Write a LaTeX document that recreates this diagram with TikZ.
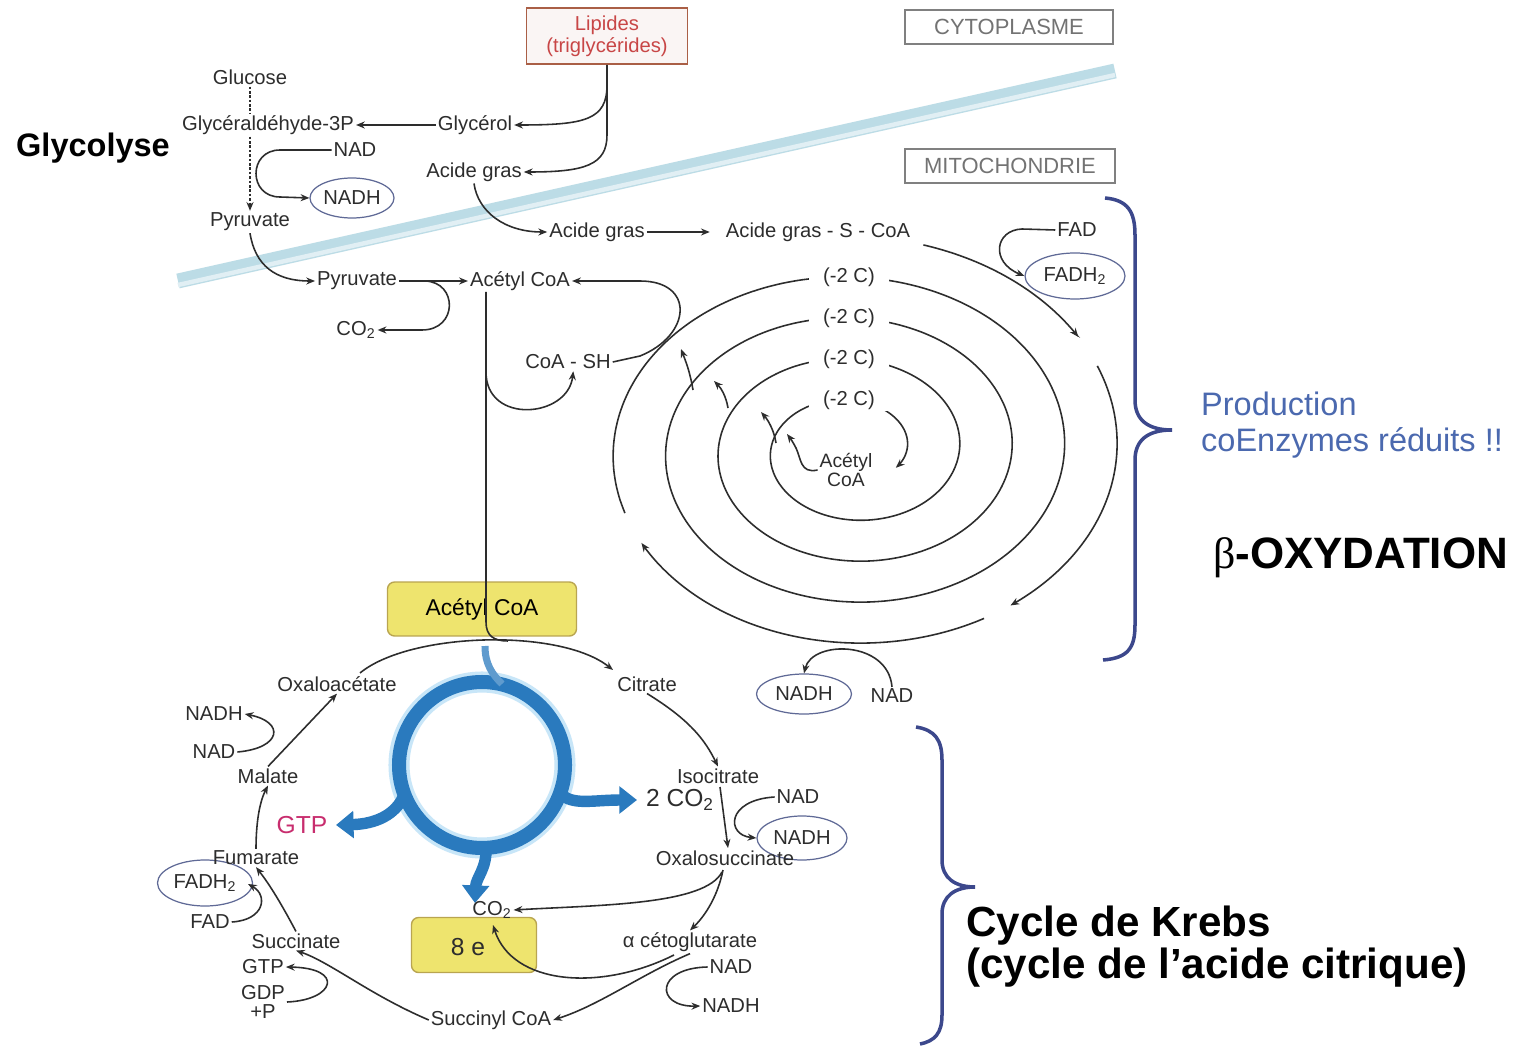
\documentclass[tikz,border=0pt]{standalone}
\usepackage{fontspec}
\setmainfont{Liberation Sans}
\newfontfamily\grkfont{Liberation Serif}
\usetikzlibrary{arrows.meta,shapes.geometric}

\definecolor{txt}{RGB}{45,45,45}
\definecolor{membrane}{RGB}{188,220,230}
\definecolor{krebsblue}{RGB}{42,122,190}
\definecolor{glowblue}{RGB}{200,230,248}
\definecolor{yellowbox}{RGB}{238,228,110}
\definecolor{yellowline}{RGB}{185,165,80}
\definecolor{lipred}{RGB}{200,70,70}
\definecolor{lipline}{RGB}{170,95,70}
\definecolor{bracecol}{RGB}{60,72,140}
\definecolor{prodblue}{RGB}{75,105,175}
\definecolor{gtpcol}{RGB}{200,45,110}
\definecolor{ovalcol}{RGB}{95,105,150}

\tikzset{
  lbl/.style={font=\fontsize{11.5}{13}\selectfont, text=txt, inner sep=1pt},
  lblw/.style={lbl, fill=white, inner xsep=8pt},
  oval/.style={ellipse, draw=ovalcol, line width=0.7pt, lbl, inner sep=0pt},
  compart/.style={draw=gray, line width=1pt, font=\fontsize{12.5}{14}\selectfont, text=gray!90!black,
    minimum width=4.16cm, minimum height=0.68cm},
  ybox/.style={draw=yellowline, fill=yellowbox, rounded corners=4pt, line width=0.8pt},
  plain/.style={line width=0.9pt, draw=txt},
  flow/.style={plain, -{Stealth[length=5pt,width=4pt]}},
  bluearrow/.style={krebsblue, line width=6.5pt, -{Triangle[length=10pt,width=15pt]}},
  bracket/.style={bracecol, line width=2pt}
}

\begin{document}
\begin{tikzpicture}[x=0.02cm, y=-0.02cm]

  \fill[white] (0,0) rectangle (1532,1047);
  \useasboundingbox (0,0) rectangle (1532,1047);

  % Membrane
  \draw[membrane, line width=8.5pt] (178,281) -- (1115,71);
  \draw[membrane!45, line width=2.5pt] (178,285) -- (1115,75);

  % Compartments
  \node[compart] (cyto) at (1009,27) {CYTOPLASME};
  \node[compart, minimum width=4.2cm] (mito) at (1010,166) {MITOCHONDRIE};

  % Lipides
  \node[draw=lipline, fill=lipline!6, line width=1pt, text=lipred, align=center,
    font=\fontsize{11.5}{12.5}\selectfont, minimum width=3.22cm, minimum height=1.12cm] (lip) at (607,36) {Lipides\\(triglycérides)};

  % Glycolyse
  \node[anchor=west, font=\fontsize{18.5}{20}\selectfont\bfseries] (glyco) at (10,148) {Glycolyse};
  \node[lbl] (glc) at (250,77) {Glucose};
  \node[lbl] (g3p) at (268,125) {Glycéraldéhyde-3P};
  \node[lbl] (glyl) at (475,125) {Glycérol};
  \node[lbl] (nad1) at (355,150) {NAD};
  \node[oval, minimum width=1.68cm, minimum height=0.8cm] (nadh1) at (352,198) {NADH};
  \node[lbl] (ag1) at (474,172) {Acide gras};
  \node[lbl] (pyr1) at (250,222) {Pyruvate};

  \draw[plain, dash pattern=on 1.5pt off 1pt] (glc.south) -- (glc.south |- g3p.north);
  \draw[flow, dash pattern=on 1.5pt off 1pt] (glc.south |- g3p.south) -- (glc.south |- pyr1.north);
  \draw[flow] (glyl.west) -- (g3p.east);
  \draw[flow] (lip.south) -- (607,85) .. controls (607,120) and (585,125) .. (glyl.east);
  \draw[flow] (607,85) -- (607,135) .. controls (607,165) and (585,172) .. (ag1.east);
  \draw[flow] (nad1.west) -- (280,150) .. controls (248,150) and (248,197) .. (280,197) -- (nadh1.west);

  % Entree dans la mitochondrie
  \node[lbl] (ag2) at (597,232) {Acide gras};
  \node[lbl] (agscoa) at (818,232) {Acide gras - S - CoA};
  \node[lbl] (pyr2) at (357,281) {Pyruvate};
  \node[lbl] (acoa) at (520,281) {Acétyl CoA};
  \node[lbl] (co2a) at (356,330) {CO\textsubscript{2}};
  \node[lbl] (coash) at (568,362) {CoA - SH};
  \coordinate (pyrmid) at (425,281);
  \coordinate (adown) at (486,292);

  \draw[flow] (ag1.south) .. controls (478,212) and (505,232) .. (ag2.west);
  \draw[flow] (ag2.east) -- ([xshift=-8pt]agscoa.west);
  \draw[flow] (pyr1.south) .. controls (255,265) and (275,281) .. (pyr2.west);
  \draw[flow] (pyr2.east) -- (acoa.west);
  \draw[flow] (pyrmid) .. controls (458,282) and (458,330) .. (422,330) -- (co2a.east);
  \draw[flow] (486,372) .. controls (486,425) and (568,418) .. ([xshift=3pt]coash.south);
  \draw[flow] (coash.east) -- (640,356) .. controls (692,335) and (695,281) .. (640,281) -- (acoa.east);

  % Spirale de la beta-oxydation
  \draw[flow] plot[domain=-75:-33, samples=30, smooth] ({852+(265-52.5*(\x/360))*cos(\x)}, {449.75+(203.5-41*(\x/360))*sin(\x)});
  \draw[flow] plot[domain=-24:52, samples=40, smooth] ({852+(265-52.5*(\x/360))*cos(\x)}, {449.75+(203.5-41*(\x/360))*sin(\x)});
  \draw[flow] plot[domain=59:150, samples=40, smooth] ({852+(265-52.5*(\x/360))*cos(\x)}, {449.75+(203.5-41*(\x/360))*sin(\x)});
  \draw[flow] plot[domain=160:1470, samples=300, smooth] ({852+(265-52.5*(\x/360))*cos(\x)}, {449.75+(203.5-41*(\x/360))*sin(\x)});

  \foreach \i/\yy in {1/277,2/318,3/359,4/400}
    \node[lblw] (moins\i) at (849,\yy) {(-2 C)};
  \node[lbl, align=center, font=\fontsize{11}{10.8}\selectfont] (acoai) at (846,470) {Acétyl\\CoA};

  \draw[flow] (693,390) .. controls (690,372) and (686,362) .. (681,349);
  \draw[flow] (728,408) .. controls (726,396) and (721,388) .. (714,381);
  \draw[flow] (776,443) .. controls (774,430) and (768,420) .. (761,412);
  \draw[flow] (acoai.west) .. controls (800,474) and (801,458) .. (796,448) .. controls (793,442) and (790,438) .. (787,434);

  % FAD
  \node[lbl] (fad1) at (1077,230) {FAD};
  \node[oval, minimum width=2cm, minimum height=0.92cm] (fadh1) at (1075,276) {FADH\textsubscript{2}};
  \draw[flow] (fad1.west) -- (1022,229) .. controls (995,230) and (990,262) .. (fadh1.west);

  % NAD sous la spirale
  \node[oval, minimum width=1.9cm, minimum height=0.8cm] (nadh2) at (804,694) {NADH};
  \node[lbl] (nad2) at (892,696) {NAD};
  \draw[flow] (nad2.north) .. controls (888,640) and (812,640) .. (nadh2.north);

  % Accolades et titres
  \draw[bracket] (1105,198) .. controls (1128,200) and (1135,212) .. (1135,235) -- (1135,400)
    .. controls (1135,420) and (1148,430) .. (1172,430) .. controls (1148,430) and (1135,440) .. (1135,460)
    -- (1135,625) .. controls (1135,648) and (1128,658) .. (1103,660);
  \draw[bracket] (916,727) .. controls (935,730) and (942,740) .. (942,760) -- (942,860)
    .. controls (942,878) and (955,887) .. (975,887) .. controls (955,887) and (942,896) .. (942,914)
    -- (942,1015) .. controls (942,1033) and (935,1041) .. (920,1044);

  \node[anchor=west, text=prodblue, align=left, font=\fontsize{18.5}{20.5}\selectfont] (prod) at (1195,425) {Production\\coEnzymes réduits !!};
  \node[anchor=west, font=\fontsize{25}{28}\selectfont\bfseries] (boxy) at (1207,558) {{\grkfont\mdseries β}-OXYDATION};
  \node[anchor=west, align=left, font=\fontsize{24}{24}\selectfont\bfseries] (krebs) at (960,947) {Cycle de Krebs\\(cycle de l’acide citrique)};

  % Cycle de Krebs
  \coordinate (krebsc) at (482,765);
  \draw[glowblue, line width=12pt] (krebsc) circle[radius=1.66cm];
  \draw[krebsblue, line width=8pt] (krebsc) circle[radius=1.66cm];
  \draw[krebsblue!75, line width=4pt] (485,646) .. controls (485,664) and (492,674) .. (502,684);
  \draw[bluearrow] (404,795) .. controls (396,815) and (375,824) .. (336,825);
  \draw[bluearrow] (560,793) .. controls (572,806) and (592,800) .. (637,800);

  \node[ybox, minimum width=3.78cm, minimum height=1.08cm, font=\fontsize{13}{15}\selectfont] (acbox) at (482,609) {Acétyl CoA};
  \draw[plain] (adown) -- (486,622) .. controls (486,636) and (494,641) .. (508,641);
  \node[ybox, minimum width=2.5cm, minimum height=1.1cm] (ebox) at (474,945) {};
  \node[font=\fontsize{14}{16}\selectfont, text=txt] (eight) at (468,947) {8 e};
  \draw[bluearrow] (486,848) .. controls (487,868) and (476,878) .. (475,903);
  \node[lbl] (co2c) at (492,910) {CO\textsubscript{2}};

  \node[lbl] (oxalo) at (337,684) {Oxaloacétate};
  \node[lbl] (cit) at (647,684) {Citrate};
  \node[lbl] (iso) at (718,776) {Isocitrate};
  \node[font=\fontsize{14}{16}\selectfont, text=txt] (co2b) at (680,800) {2 CO\textsubscript{2}};
  \node[lbl] (nad3) at (798,797) {NAD};
  \node[oval, minimum width=1.8cm, minimum height=0.88cm] (nadh3) at (802,838) {NADH};
  \node[lbl] (oxs) at (725,858) {Oxalosuccinate};
  \node[lbl] (akg) at (690,942) {α cétoglutarate};
  \node[lbl] (nad4) at (731,967) {NAD};
  \node[lbl] (nadh4) at (731,1006) {NADH};
  \node[lbl] (succoa) at (491,1020) {Succinyl CoA};
  \node[lbl] (succ) at (296,941) {Succinate};
  \node[lbl] (gtp2) at (263,967) {GTP};
  \node[lbl, align=center, font=\fontsize{11.5}{11}\selectfont] (gdp) at (263,1002) {GDP\\+P};
  \node[lbl] (fad2) at (210,922) {FAD};
  \node[oval, minimum width=1.9cm, minimum height=0.92cm] (fadh2) at (205,883) {FADH\textsubscript{2}};
  \node[lbl] (fum) at (256,858) {Fumarate};
  \node[text=gtpcol, font=\fontsize{14}{16}\selectfont] (gtp) at (302,825) {GTP};
  \node[lbl] (mal) at (268,776) {Malate};
  \node[lbl] (nad5) at (214,752) {NAD};
  \node[lbl] (nadh5) at (214,714) {NADH};

  \draw[flow] (360,673) .. controls (410,632) and (560,628) .. (613,670);
  \draw[flow] (cit.south) .. controls (690,720) and (705,740) .. (iso.north);
  \draw[flow] (720,787) -- (728,848);
  \draw[flow] (nad3.west) .. controls (726,800) and (726,835) .. (nadh3.west);
  \draw[flow] (723,870) .. controls (718,895) and (706,915) .. (akg.north);
  \draw[flow] (722,872) .. controls (705,905) and (600,905) .. (co2c.east);
  \draw[flow] (akg.south) .. controls (640,975) and (600,1005) .. (succoa.east);
  \draw[flow] (nad4.west) .. controls (655,968) and (655,1007) .. (nadh4.west);
  \draw[flow] (674,955) .. controls (600,992) and (512,985) .. (493,925);
  \draw[flow] (succoa.west) .. controls (370,995) and (330,962) .. (succ.south);
  \draw[flow] (gdp.east) .. controls (335,1000) and (345,968) .. (gtp2.east);
  \draw[flow] (succ.north) .. controls (282,905) and (270,885) .. (fum.south);
  \draw[flow] (fad2.east) .. controls (265,920) and (268,895) .. (248,884);
  \draw[flow] (fum.north) .. controls (256,830) and (258,805) .. (mal.south);
  \draw[flow] (mal.north) -- (oxalo.south);
  \draw[flow] (nad5.east) .. controls (282,748) and (285,722) .. (nadh5.east);

\end{tikzpicture}
\end{document}
